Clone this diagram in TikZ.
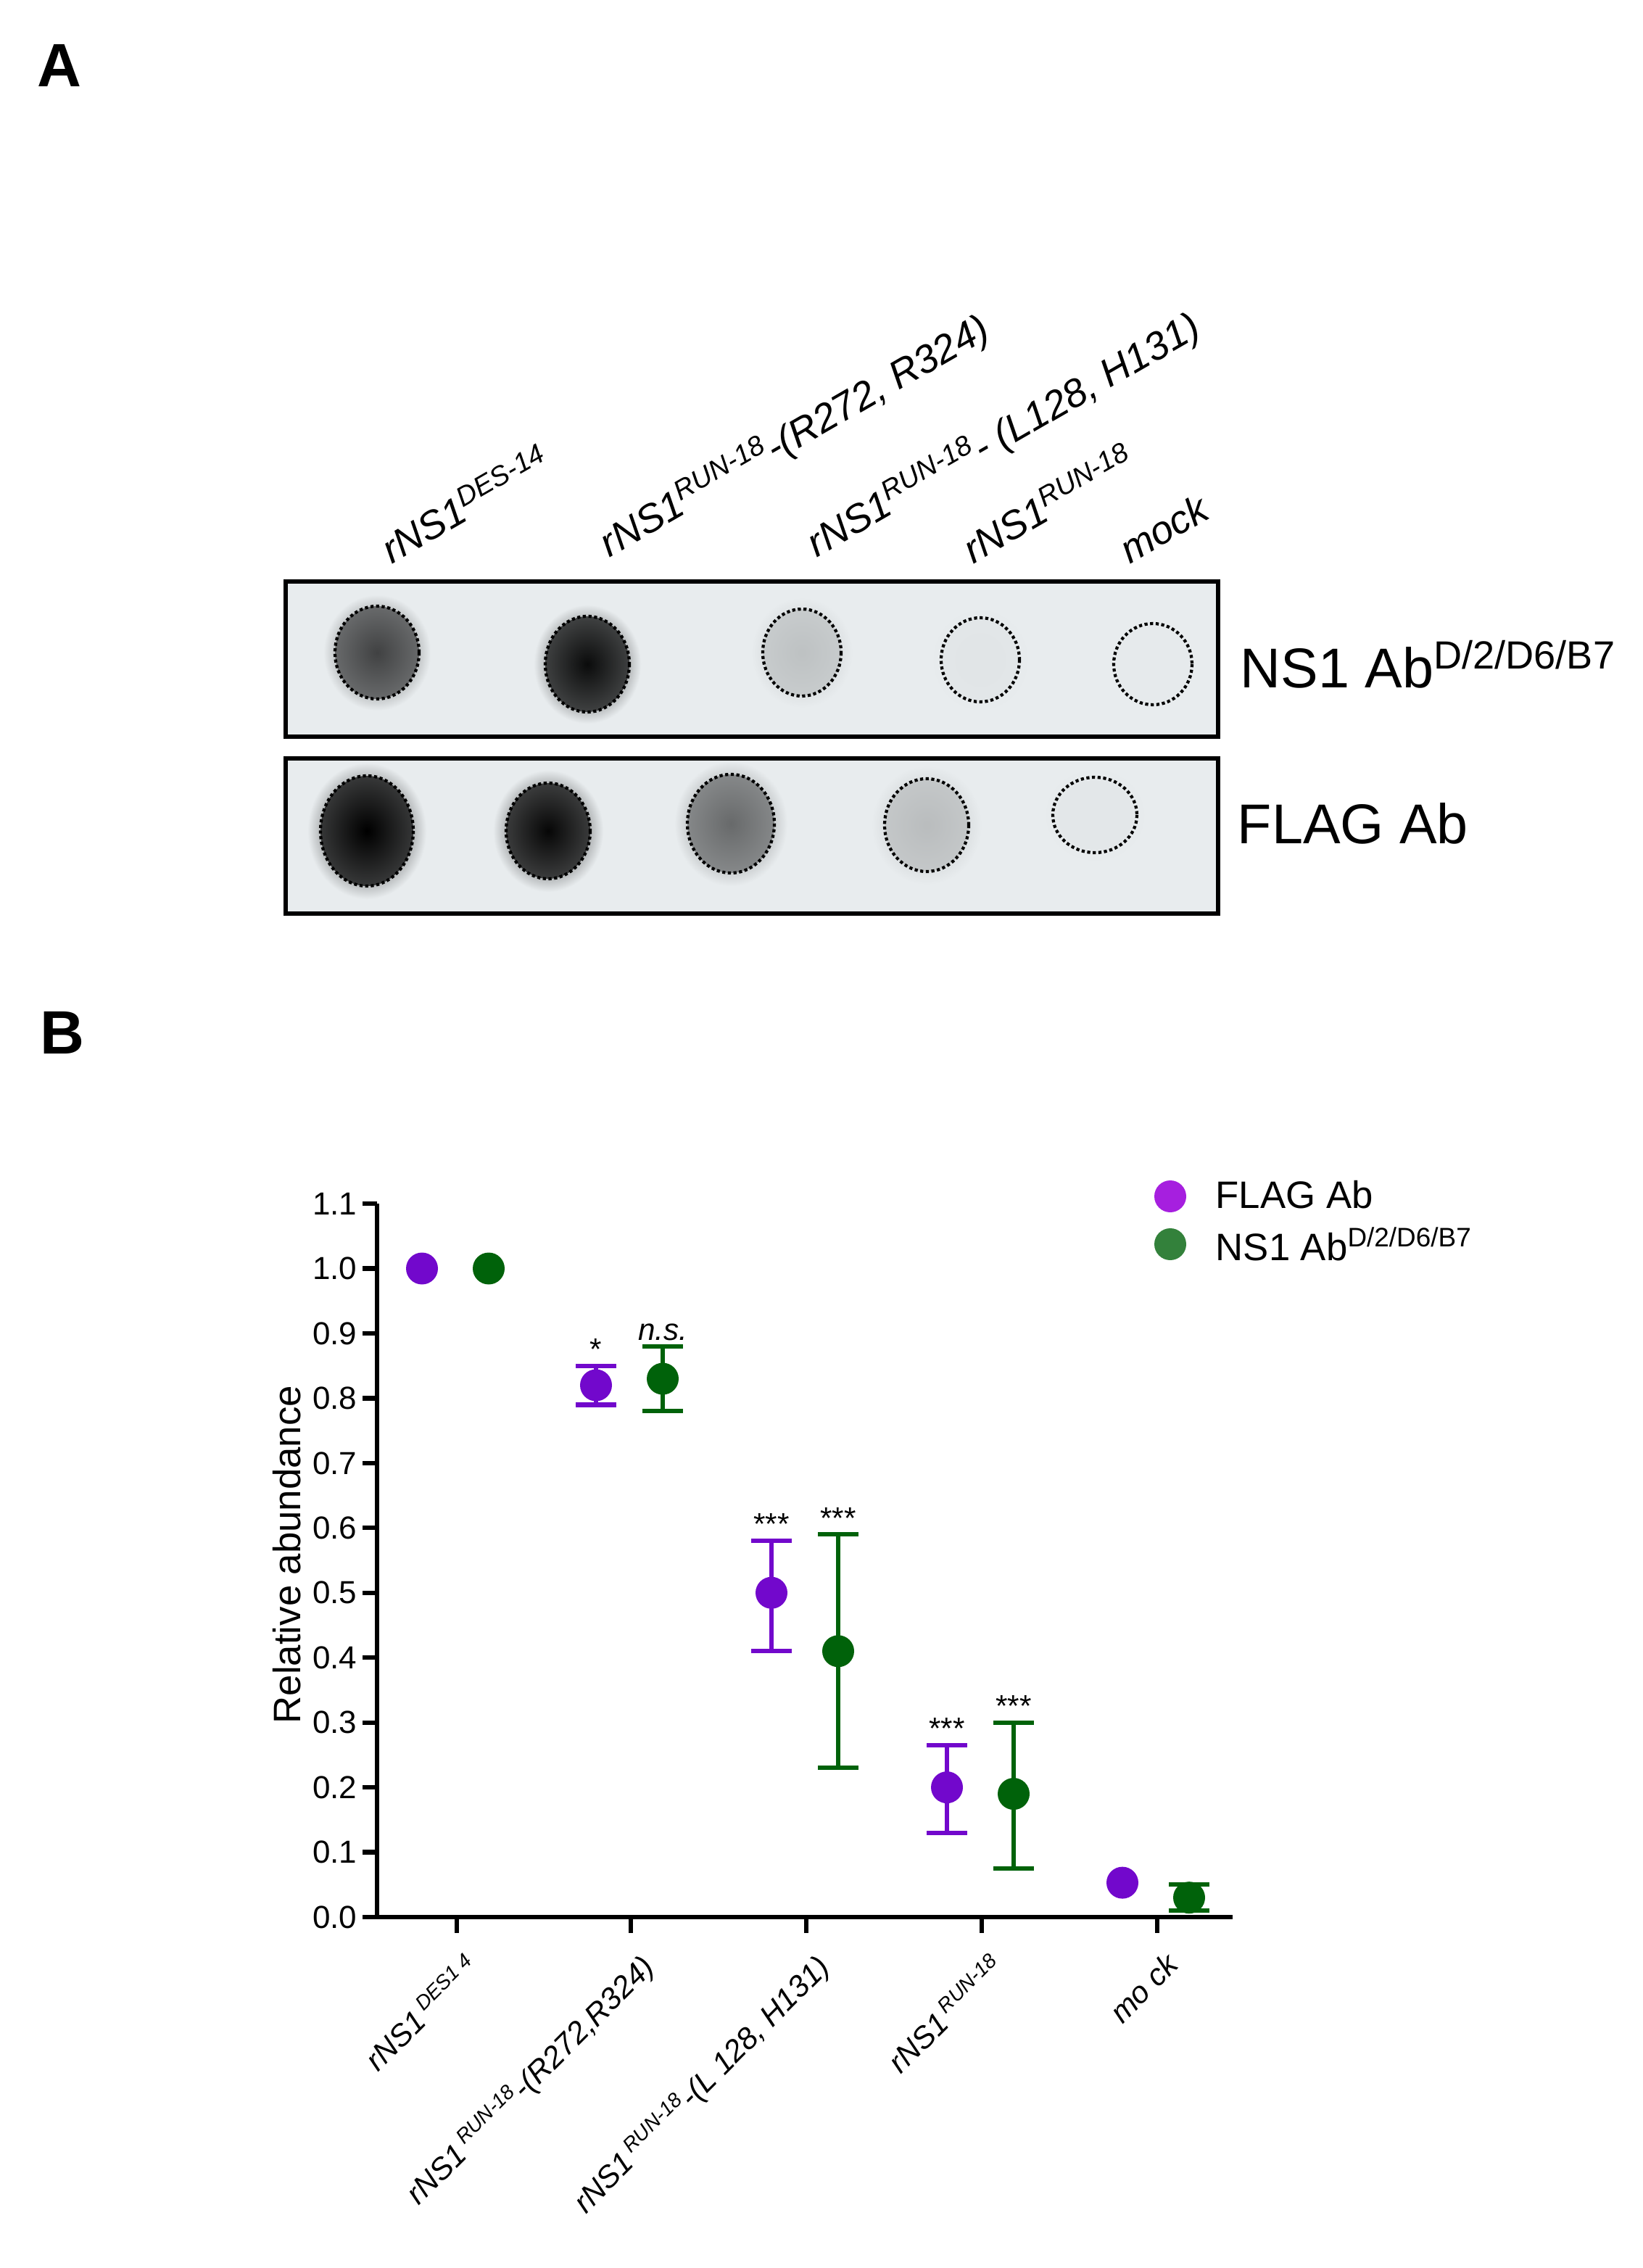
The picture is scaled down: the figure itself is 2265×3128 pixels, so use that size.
\documentclass[tikz,border=0pt]{standalone}
\usepackage{fontspec}
\setmainfont{Liberation Sans}
\newcommand{\fs}[1]{\fontsize{#1}{#1}\selectfont}
\begin{document}
\begin{tikzpicture}[x=0.01cm,y=-0.01cm,
 lab/.style={font=\fs{24}\bfseries},
 col/.style={font=\fs{15.5}\itshape,rotate=30,anchor=south west,inner sep=0},
 side/.style={font=\fs{22},anchor=west,inner sep=0},
 ring/.style={densely dotted,line width=1.2pt},
 tick/.style={font=\fs{12.5},anchor=east,inner sep=2pt},
 xl/.style={font=\fs{12}\itshape,rotate=45,anchor=north east,inner sep=0},
 eb/.style={line width=1.8pt}]
\definecolor{pur}{HTML}{7208CC}
\definecolor{grn}{HTML}{00620A}
\definecolor{bg}{HTML}{E8ECEE}
\useasboundingbox (0,0) rectangle (2265,3128);
\node[lab] (A) at (82,90) {A};
\node[lab] (B) at (86,1424) {B};
% blots
\draw[line width=1.5pt,fill=bg] (394,802) rectangle (1680,1016);
\draw[line width=1.5pt,fill=bg] (394,1046) rectangle (1680,1260);
\foreach \x/\y/\rx/\ry/\c in {520/900/62/68/28,810/916/62/70/5,1106/900/58/64/82,1352/910/58/62/97,1590/916/58/60/99}{
 \shade[shading=radial,inner color=bg!\c!black, outer color=bg] (\x,\y) ellipse ({\rx+12} and {\ry+12});
 \fill[bg!\c!black,opacity=0.7] (\x,\y) ellipse ({\rx-4} and {\ry-4});
 \draw[ring] (\x,\y) ellipse ({\rx-4} and {\ry-4});}
\foreach \x/\y/\rx/\ry/\c in {506/1146/70/82/0,756/1146/64/72/3,1008/1136/66/74/45,1278/1138/64/70/80,1510/1124/64/58/98}{
 \shade[shading=radial,inner color=bg!\c!black, outer color=bg] (\x,\y) ellipse ({\rx+12} and {\ry+12});
 \fill[bg!\c!black,opacity=0.7] (\x,\y) ellipse ({\rx-6} and {\ry-6});
 \draw[ring] (\x,\y) ellipse ({\rx-6} and {\ry-6});}
\node[col] (c1) at (540,780) {rNS1\textsuperscript{DES-14}};
\node[col] (c2) at (846,780) {rNS1\textsuperscript{RUN-18}-(R272, R324)};
\node[col] (c3) at (1132,780) {rNS1\textsuperscript{RUN-18}- (L128, H131)};
\node[col] (c4) at (1342,780) {rNS1\textsuperscript{RUN-18}};
\node[col] (c5) at (1558,780) {mock};
\node[side] (s1) at (1710,916) {NS1 Ab\textsuperscript{D/2/D6/B7}};
\node[side] (s2) at (1706,1136) {FLAG Ab};
% chart
\coordinate (o) at (520,2644);
\coordinate (yt) at (520,1660);
\coordinate (xe) at (1700,2644);
\draw[line width=1.8pt] (yt) -- (o) -- (xe);
\foreach \v/\t in {0/0.0,1/0.1,2/0.2,3/0.3,4/0.4,5/0.5,6/0.6,7/0.7,8/0.8,9/0.9,10/1.0,11/1.1}{
 \draw[line width=1.8pt] (500,2644-89.45*\v) -- (520,2644-89.45*\v);
 \node[tick] at (500,2644-89.45*\v) {\t};}
\foreach \x in {630,870,1112,1354,1596} \draw[line width=1.8pt] (\x,2644) -- (\x,2666);
\node[font=\fs{15},rotate=90] (yl) at (396,2144) {Relative abundance};
\node[xl] at (640,2690) {rNS1\,\textsuperscript{DES1 4}};
\node[xl] at (880,2690) {rNS1\,\textsuperscript{RUN-18}-(R272,R324)};
\node[xl] at (1122,2690) {rNS1\,\textsuperscript{RUN-18}-(L 128, H131)};
\node[xl] at (1364,2690) {rNS1\,\textsuperscript{RUN-18}};
\node[xl] at (1606,2690) {mo ck};
% data
\def\Y#1{2644-894.5*#1}
\foreach \x/\m/\lo/\hi/\s in {630/1.0/1.0/1.0/{},870/0.82/0.79/0.85/*,1112/0.5/0.41/0.58/***,1354/0.2/0.13/0.265/***,1596/0.053/0.053/0.053/{}}{
 \begin{scope}[pur]
 \ifdim\lo pt<\hi pt
 \draw[eb] (\x-48,{\Y{\lo}}) -- (\x-48,{\Y{\hi}}) (\x-76,{\Y{\lo}}) -- (\x-20,{\Y{\lo}}) (\x-76,{\Y{\hi}}) -- (\x-20,{\Y{\hi}});
 \fi
 \fill (\x-48,{\Y{\m}}) circle (22);
 \node[black,font=\fs{12},anchor=south,inner sep=1pt] at (\x-48,{\Y{\hi}-4}) {\s};
 \end{scope}}
\foreach \x/\m/\lo/\hi/\s in {630/1.0/1.0/1.0/{},870/0.83/0.78/0.88/{\itshape n.s.},1112/0.41/0.23/0.59/***,1354/0.19/0.075/0.30/***,1596/0.03/0.01/0.05/{}}{
 \begin{scope}[grn]
 \ifdim\lo pt<\hi pt
 \draw[eb] (\x+44,{\Y{\lo}}) -- (\x+44,{\Y{\hi}}) (\x+16,{\Y{\lo}}) -- (\x+72,{\Y{\lo}}) (\x+16,{\Y{\hi}}) -- (\x+72,{\Y{\hi}});
 \fi
 \fill (\x+44,{\Y{\m}}) circle (22);
 \node[black,font=\fs{12},anchor=south,inner sep=1pt] at (\x+44,{\Y{\hi}-4}) {\s};
 \end{scope}}
% legend
\fill[pur!70!magenta!90!white] (1614,1650) circle (22);
\fill[grn!80!white] (1614,1716) circle (22);
\node[font=\fs{15},anchor=west,inner sep=0] (l1) at (1676,1648) {FLAG Ab};
\node[font=\fs{15},anchor=west,inner sep=0] (l2) at (1676,1716) {NS1 Ab\textsuperscript{D/2/D6/B7}};
\end{tikzpicture}
\end{document}
